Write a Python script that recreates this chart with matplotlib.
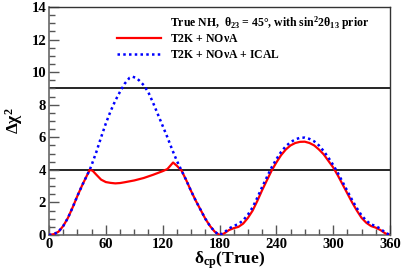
import numpy as np
import matplotlib.pyplot as plt
from matplotlib.ticker import MultipleLocator

# --- data ---
dcp_red = [0, 5, 10, 15, 20, 25, 30, 35, 40, 43, 46, 50, 55, 60, 65, 70, 75, 80, 90,
           100, 110, 120, 125, 131, 135, 140, 145, 150, 155, 160, 165, 170, 175, 180,
           185, 190, 195, 200, 205, 210, 215, 220, 225, 230, 235, 240, 245, 250, 255,
           260, 265, 270, 275, 280, 285, 290, 295, 300, 305, 310, 315, 320, 325, 330,
           335, 340, 345, 350, 355, 360]
chi2_red = [0, 0.05, 0.2, 0.55, 1.05, 1.7, 2.4, 3.05, 3.65, 4.0, 3.95, 3.7, 3.4, 3.25,
            3.2, 3.17, 3.19, 3.24, 3.35, 3.5, 3.7, 3.92, 4.05, 4.45, 4.25, 3.95, 3.35,
            2.7, 2.1, 1.55, 1.0, 0.55, 0.2, 0.0, 0.1, 0.3, 0.42, 0.5, 0.7, 1.05, 1.5,
            2.1, 2.75, 3.35, 3.95, 4.45, 4.9, 5.25, 5.5, 5.65, 5.72, 5.73, 5.65, 5.5,
            5.25, 4.95, 4.55, 4.15, 3.65, 3.1, 2.55, 2.0, 1.5, 1.05, 0.75, 0.55, 0.45,
            0.3, 0.1, 0]

dcp_blue = [0, 5, 10, 15, 20, 25, 30, 35, 40, 43, 45, 50, 55, 60, 65, 70, 75, 80, 85,
            88, 92, 95, 100, 105, 110, 115, 120, 125, 130, 135, 140, 145, 150, 155, 160,
            165, 170, 175, 180, 185, 190, 195, 200, 205, 210, 215, 220, 225, 230, 235,
            240, 245, 250, 255, 260, 265, 270, 275, 280, 285, 290, 295, 300, 305, 310,
            315, 320, 325, 330, 335, 340, 345, 350, 355, 360]
chi2_blue = [0, 0.05, 0.2, 0.55, 1.05, 1.7, 2.4, 3.05, 3.65, 4.0, 4.3, 5.1, 6.0, 6.85,
             7.6, 8.25, 8.8, 9.3, 9.65, 9.72, 9.65, 9.5, 9.2, 8.75, 8.1, 7.4, 6.7, 6.0,
             5.25, 4.55, 3.95, 3.35, 2.7, 2.1, 1.55, 1.0, 0.55, 0.2, 0.0, 0.15, 0.4,
             0.55, 0.68, 0.9, 1.25, 1.7, 2.3, 2.95, 3.55, 4.15, 4.65, 5.1, 5.45, 5.7,
             5.87, 5.97, 5.98, 5.9, 5.75, 5.5, 5.15, 4.75, 4.3, 3.8, 3.25, 2.7, 2.15,
             1.65, 1.2, 0.88, 0.65, 0.55, 0.38, 0.15, 0]

sigma_levels = [4, 9]

plt.rcParams['font.family'] = 'Liberation Serif'
plt.rcParams['font.weight'] = 'bold'
plt.rcParams['axes.labelweight'] = 'bold'
plt.rcParams['mathtext.fontset'] = 'custom'
plt.rcParams['mathtext.rm'] = 'Liberation Serif:bold'
plt.rcParams['mathtext.it'] = 'Liberation Serif:bold:italic'
plt.rcParams['mathtext.bf'] = 'Liberation Serif:bold'
plt.rcParams['mathtext.default'] = 'rm'

fig = plt.figure(figsize=(4.07, 2.72), dpi=100)
ax = fig.add_axes([49/407, 1 - 235/272, 341/407, 228/272])

for lev in sigma_levels:
    ax.axhline(lev, color='black', lw=1.2, zorder=1)

ax.plot(dcp_red, chi2_red, color='red', lw=1.6, label='T2K + NO$\\nu$A', zorder=3)
ax.plot(dcp_blue, chi2_blue, color='blue', lw=1.8, linestyle=(0, (1, 1.3)),
        label='T2K + NO$\\nu$A + ICAL', zorder=4)

ax.set_xlim(0, 360)
ax.set_ylim(0, 14)
ax.xaxis.set_major_locator(MultipleLocator(60))
ax.xaxis.set_minor_locator(MultipleLocator(15))
ax.yaxis.set_major_locator(MultipleLocator(2))
ax.yaxis.set_minor_locator(MultipleLocator(0.5))
ax.tick_params(which='both', direction='in', top=False, right=False,
               labelsize=10.5, color='#555555', pad=2)
ax.tick_params(which='major', length=7, width=1)
ax.tick_params(which='minor', length=4, width=1)
for s in ['left', 'bottom']:
    ax.spines[s].set_color('#666666')
    ax.spines[s].set_linewidth(1.2)
for s in ['top', 'right']:
    ax.spines[s].set_color('#333333')
    ax.spines[s].set_linewidth(1.0)

ax.set_ylabel('$\\Delta\\chi^2$', fontsize=12.5, fontweight='bold')
ax.yaxis.set_label_coords(-0.07, 0.5)
ax.set_xlabel('$\\delta_{cp}$(True)', fontsize=12.5, fontweight='bold')
ax.xaxis.set_label_coords(0.53, -0.065)
ax.xaxis.label.set_va('top')

fig.text(170/407, 1 - 23/272,
         'True NH,  $\\theta_{23}$ = 45°, with sin$^2$2$\\theta_{13}$ prior',
         fontsize=8.5, va='center', ha='left')
ax.legend(loc='upper left', bbox_to_anchor=(117/407, 1 - 33/272),
          bbox_transform=fig.transFigure, frameon=False, fontsize=8.5,
          borderpad=0, borderaxespad=0, handlelength=3.7, handletextpad=0.8,
          labelspacing=0.35)

fig.savefig('out.png', dpi=100)
